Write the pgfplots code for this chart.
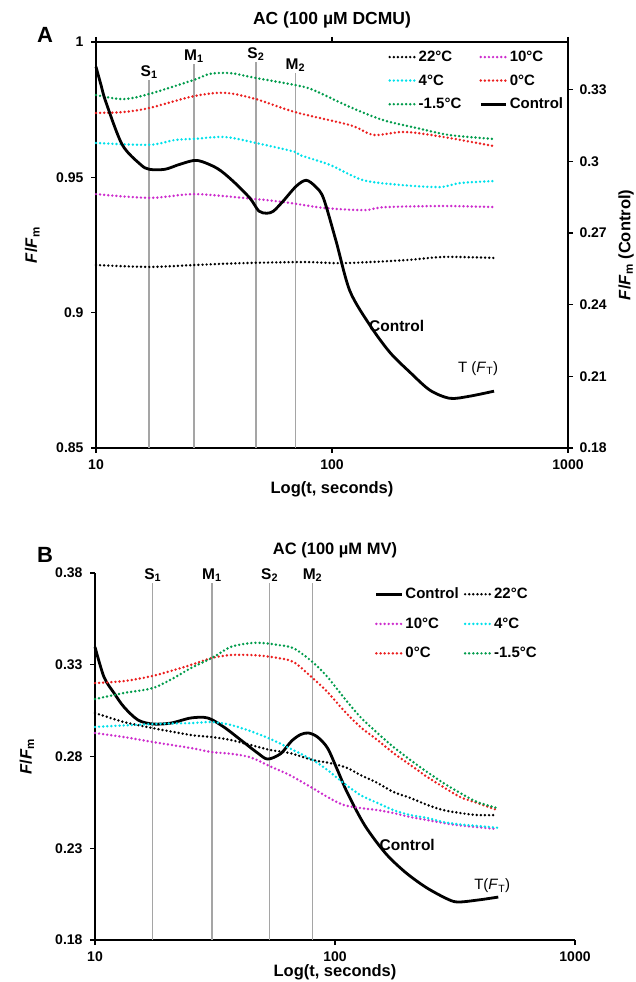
\documentclass[border=0pt]{standalone}
\usepackage{fontspec}
\setmainfont{Liberation Sans}
\usepackage{pgfplots}
\pgfplotsset{compat=1.18}
\definecolor{cgreen}{RGB}{0,155,75}
\definecolor{cred}{RGB}{235,30,30}
\definecolor{ccyan}{RGB}{0,225,235}
\definecolor{cmag}{RGB}{205,45,205}
\definecolor{vgray}{RGB}{165,165,165}
\newcommand{\FFm}{\textit{F}/\textit{F}\textsubscript{m}}
\tikzset{
  mydots/.style={line width=2.7pt, line cap=round, dash pattern=on 0pt off 4.1pt},
  myvline/.style={vgray, line width=1.5pt},
  mylab/.style={font=\fontsize{15.5}{17}\selectfont\bfseries},
}
\pgfplotsset{
  every axis legend/.append style={draw=none, fill=none, inner sep=0pt, anchor=north west,
    font=\fontsize{15}{17}\selectfont\bfseries},
  legend image post style={xscale=1.5},
}
\begin{document}
\begin{tikzpicture}
\path[use as bounding box] (0,0) rectangle (635pt,982pt);
% ---------------- Panel A ----------------
\begin{axis}[scale only axis, xmode=log, xmin=10, xmax=1000,
  xtick={10,100,1000}, xticklabels={10,100,1000}, xminorticks=false,
  tick align=outside, major tick length=5pt,
  major tick style={black, line width=1.2pt},
  axis line style={line width=1.6pt},
  tick label style={font=\fontsize{14}{16}\selectfont\bfseries},
  yticklabel style={xshift=-4pt}, xticklabel style={yshift=-3pt},
  label style={font=\fontsize{16.5}{18}\selectfont\bfseries},
  xlabel style={yshift=-5pt},
  ylabel style={at={(rel axis cs:-0.135,0.5)}, anchor=center},
  /pgf/number format/assume math mode=true,
  clip=false, legend columns=2, legend cell align=left,
  at={(96pt,534pt)}, anchor=south west, width=472pt, height=406pt,
  ymin=0.85, ymax=1, ytick={0.85,0.9,0.95,1}, ytick pos=left,
  xlabel={Log(t, seconds)}, ylabel={\FFm},
  title={AC (100 µM DCMU)}, title style={font=\fontsize{17.5}{19}\selectfont\bfseries, yshift=4pt},
  legend style={at={(0.619,0.983)}, row sep=7.5pt,
    /tikz/every even column/.append style={column sep=16pt}},
]
\addplot[myvline, forget plot] coordinates {(16.8,0.85) (16.8,0.986)};
\addplot[myvline, forget plot] coordinates {(26.0,0.85) (26.0,0.9919)};
\addplot[myvline, forget plot] coordinates {(47.6,0.85) (47.6,0.9926)};
\addplot[myvline, forget plot] coordinates {(70.0,0.85) (70.0,0.9885)};
\node[mylab, anchor=south, inner sep=1pt] at (axis cs:16.8,0.986) {S\textsubscript{1}};
\node[mylab, anchor=south, inner sep=1pt] at (axis cs:26.0,0.9919) {M\textsubscript{1}};
\node[mylab, anchor=south, inner sep=1pt] at (axis cs:47.6,0.9926) {S\textsubscript{2}};
\node[mylab, anchor=south, inner sep=1pt] at (axis cs:70.0,0.9885) {M\textsubscript{2}};
\node[font=\fontsize{22}{24}\selectfont\bfseries] at (rel axis cs:-0.108,1.017) {A};
\addplot[mydots, black, smooth] coordinates {(10,0.9176) (16.9,0.9169) (26,0.9176) (42,0.9183) (76,0.9187) (112,0.9183) (204,0.9194) (301,0.9206) (487,0.9202)};
\addlegendentry{22°C}
\addplot[mydots, cmag, smooth] coordinates {(10,0.9438) (16.9,0.9424) (26,0.9438) (42,0.9424) (62,0.9409) (92.3,0.9387) (137,0.9379) (168,0.939) (301,0.9394) (487,0.939)};
\addlegendentry{10°C}
\addplot[mydots, ccyan, smooth] coordinates {(10,0.9627) (16.8,0.962) (21.6,0.9638) (26,0.9642) (35.2,0.9649) (47.6,0.9627) (69.7,0.9594) (73.2,0.9582) (98,0.9546) (135,0.949) (194,0.9472) (286,0.9464) (349,0.9479) (482,0.9486)};
\addlegendentry{4°C}
\addplot[mydots, cred, smooth] coordinates {(10,0.9738) (13,0.9741) (16.8,0.9756) (26,0.98) (35.2,0.9812) (47.6,0.9789) (69.7,0.9741) (119,0.9693) (141,0.9664) (155,0.9656) (194,0.9667) (229,0.9664) (316,0.9645) (482,0.9616)};
\addlegendentry{0°C}
\addplot[mydots, cgreen, smooth] coordinates {(10,0.9804) (13,0.9789) (16.8,0.9808) (26,0.986) (30.4,0.9882) (37,0.9885) (47.6,0.9867) (69.7,0.9841) (83.1,0.9823) (119,0.976) (164,0.9712) (229,0.9682) (316,0.9656) (482,0.9642)};
\addlegendentry{-1.5°C}
\addlegendimage{black, line width=2.8pt}
\addlegendentry{Control}
\end{axis}
\begin{axis}[scale only axis, xmode=log, xmin=10, xmax=1000,
  tick align=outside, major tick length=5pt,
  major tick style={black, line width=1.2pt},
  axis line style={line width=1.6pt},
  tick label style={font=\fontsize{14}{16}\selectfont\bfseries},
  yticklabel style={xshift=3pt},
  label style={font=\fontsize{16.5}{18}\selectfont\bfseries},
  ylabel style={at={(rel axis cs:1.123,0.5)}, anchor=center},
  /pgf/number format/assume math mode=true,
  clip=false, yminorticks=false,
  at={(96pt,534pt)}, anchor=south west, width=472pt, height=406pt,
  ymin=0.18, ymax=0.35, ytick={0.18,0.21,0.24,0.27,0.3,0.33},
  axis y line*=right, axis x line=none,
  ylabel={\FFm{} (Control)},
]
\addplot[black, line width=2.8pt, smooth, tension=0.5] coordinates {(10,0.3396) (10.5,0.332) (11.0,0.325) (12.9,0.3071) (15.4,0.2988) (16.8,0.2967) (19.6,0.2967) (22.7,0.2988) (26.8,0.3004) (32.6,0.2971) (38.1,0.2917) (44.9,0.2846) (49.0,0.2792) (53.0,0.2783) (56.5,0.2792) (62.0,0.2833) (70.5,0.2896) (77.7,0.2921) (85,0.2895) (92,0.2846) (104,0.2667) (119,0.2458) (145,0.2313) (176,0.220) (214,0.2117) (260,0.2042) (316,0.2008) (384,0.2017) (486,0.2038)};
\node[mylab] at (axis cs:188,0.2313) {Control};
\node[font=\fontsize{15}{17}\selectfont] at (axis cs:416,0.2133) {T (\textit{F}\textsubscript{T})};
\end{axis}
% ---------------- Panel B ----------------
\begin{axis}[scale only axis, xmode=log, xmin=10, xmax=1000,
  xtick={10,100,1000}, xticklabels={10,100,1000}, xminorticks=false,
  tick align=outside, major tick length=5pt,
  major tick style={black, line width=1.2pt},
  axis line style={-, line width=1.6pt},
  tick label style={font=\fontsize{14}{16}\selectfont\bfseries},
  yticklabel style={xshift=-4pt}, xticklabel style={yshift=-3pt},
  label style={font=\fontsize{16.5}{18}\selectfont\bfseries},
  xlabel style={yshift=4pt},
  ylabel style={at={(rel axis cs:-0.142,0.5)}, anchor=center},
  /pgf/number format/assume math mode=true,
  clip=false, legend columns=2, legend cell align=left,
  at={(95pt,42pt)}, anchor=south west, width=480pt, height=367pt,
  ymin=0.18, ymax=0.38, ytick={0.18,0.23,0.28,0.33,0.38},
  axis x line*=bottom, axis y line*=left,
  xlabel={Log(t, seconds)}, ylabel={\FFm},
  title={AC (100 µM MV)}, title style={font=\fontsize{16.5}{18}\selectfont\bfseries, yshift=6pt},
  legend style={at={(0.583,0.965)}, row sep=13.5pt,
    /tikz/every even column/.append style={column sep=3pt}},
]
\addplot[myvline, forget plot] coordinates {(17.4,0.18) (17.4,0.3745)};
\addplot[myvline, forget plot] coordinates {(30.7,0.18) (30.7,0.3745)};
\addplot[myvline, forget plot] coordinates {(53.4,0.18) (53.4,0.3745)};
\addplot[myvline, forget plot] coordinates {(80.6,0.18) (80.6,0.3745)};
\node[mylab, anchor=south, inner sep=1pt] at (axis cs:17.4,0.3745) {S\textsubscript{1}};
\node[mylab, anchor=south, inner sep=1pt] at (axis cs:30.7,0.3745) {M\textsubscript{1}};
\node[mylab, anchor=south, inner sep=1pt] at (axis cs:53.4,0.3745) {S\textsubscript{2}};
\node[mylab, anchor=south, inner sep=1pt] at (axis cs:80.6,0.3745) {M\textsubscript{2}};
\node[font=\fontsize{22}{24}\selectfont\bfseries] at (rel axis cs:-0.104,1.049) {B};
\addplot[black, line width=2.8pt, smooth, tension=0.5] coordinates {(10,0.3397) (10.9,0.3233) (12.0,0.3146) (13.2,0.307) (15.1,0.2999) (17.4,0.2977) (20.7,0.2982) (25.1,0.301) (29.5,0.301) (34.4,0.2961) (40.5,0.289) (47.6,0.2819) (52.4,0.2786) (59.3,0.2815) (66,0.2885) (72,0.292) (77.6,0.2928) (84.6,0.2906) (93.1,0.2846) (102.4,0.2726) (112.7,0.2601) (133,0.2425) (162,0.2274) (196,0.217) (238,0.2089) (288,0.2029) (323,0.2007) (395,0.2018) (479,0.2034)};
\addlegendentry{Control}
\addplot[mydots, black, smooth] coordinates {(10,0.3037) (13.2,0.2988) (17.4,0.2955) (25.1,0.2917) (30.7,0.2906) (36.8,0.289) (44.5,0.2863) (53.9,0.2835) (64.7,0.2819) (80.6,0.2781) (95.6,0.2764) (112.7,0.2737) (127.6,0.2699) (150.2,0.2656) (175.1,0.2607) (206,0.2574) (242.5,0.2536) (282.6,0.2508) (332.5,0.2492) (391.4,0.2481) (474,0.2481)};
\addlegendentry{22°C}
\addplot[mydots, cmag, smooth] coordinates {(10,0.2928) (13.2,0.2906) (17.4,0.2879) (25.1,0.2846) (30.7,0.2824) (36.8,0.2815) (44.5,0.2795) (53.9,0.2745) (64.7,0.2699) (80.6,0.2628) (93.1,0.2579) (108.4,0.2536) (127.6,0.2519) (150.2,0.2508) (175.1,0.2492) (206,0.247) (242.5,0.2454) (282.6,0.2438) (332.5,0.2424) (474,0.2405)};
\addlegendentry{10°C}
\addplot[mydots, ccyan, smooth] coordinates {(10,0.2961) (17.4,0.2977) (25.1,0.2982) (30.7,0.2988) (36.8,0.2972) (44.5,0.2938) (53.9,0.2895) (64.7,0.2845) (80.6,0.2781) (93.1,0.2726) (108.4,0.2656) (127.6,0.259) (150.2,0.2547) (175.1,0.2508) (206,0.2481) (242.5,0.2465) (282.6,0.2443) (332.5,0.2430) (474,0.2412)};
\addlegendentry{4°C}
\addplot[mydots, cred, smooth] coordinates {(10,0.32) (13.2,0.3211) (17.4,0.3239) (21.3,0.3271) (25.1,0.3299) (30.7,0.3337) (36.8,0.3353) (44.5,0.3353) (50.4,0.3348) (57.7,0.3337) (67.2,0.3315) (80.6,0.3228) (93.1,0.3151) (108.4,0.3053) (127.6,0.2961) (150.2,0.289) (175.1,0.2819) (206,0.2754) (242.5,0.2688) (282.6,0.2634) (332.5,0.2579) (391.4,0.2547) (474,0.2508)};
\addlegendentry{0°C}
\addplot[mydots, cgreen, smooth] coordinates {(10,0.3113) (13.2,0.3146) (17.4,0.3173) (21.3,0.3228) (25.1,0.3282) (30.7,0.3337) (36.8,0.3397) (44.5,0.3418) (50.4,0.3418) (57.7,0.3408) (67.2,0.339) (80.6,0.3315) (93.1,0.3233) (108.4,0.3124) (127.6,0.3015) (150.2,0.2928) (175.1,0.2852) (206,0.2781) (242.5,0.2715) (282.6,0.2656) (332.5,0.2601) (391.4,0.2552) (474,0.2519)};
\addlegendentry{-1.5°C}
\node[mylab] at (axis cs:200,0.2318) {Control};
\node[font=\fontsize{15}{17}\selectfont] at (axis cs:452,0.2094) {T(\textit{F}\textsubscript{T})};
\end{axis}
\end{tikzpicture}
\end{document}
